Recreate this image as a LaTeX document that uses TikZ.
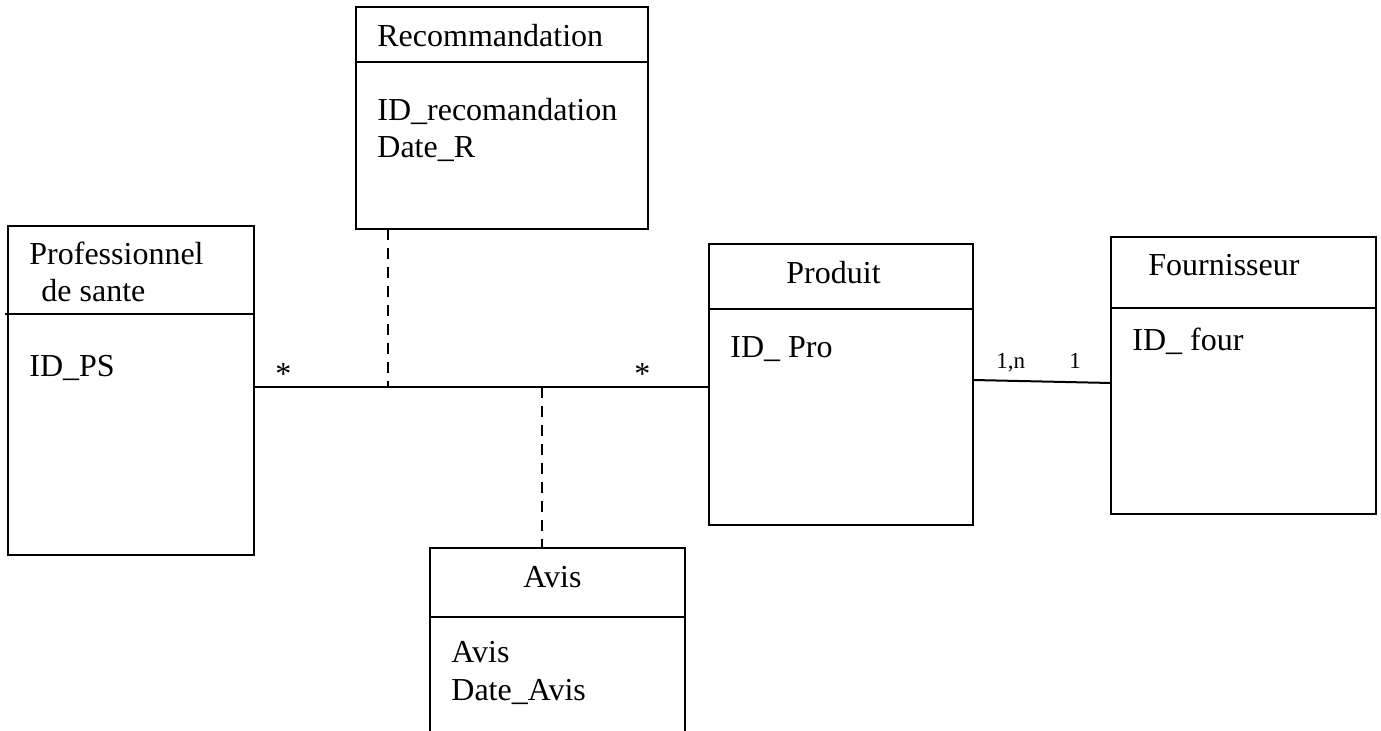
\documentclass[tikz,border=0pt]{standalone}
\usepackage{fontspec}
\setmainfont{Liberation Serif}
\usetikzlibrary{calc}
\tikzset{
  box/.style={draw, line width=1.2pt, inner sep=0pt, outer sep=0pt},
  txt/.style={anchor=base west, inner sep=0pt, font=\fontsize{16pt}{19pt}\selectfont},
  small/.style={anchor=base west, inner sep=0pt, font=\fontsize{11.5pt}{13pt}\selectfont},
  conn/.style={line width=1.2pt},
  thinconn/.style={line width=1pt},
  dconn/.style={line width=1.3pt, dash pattern=on 5.5pt off 4pt},
}
\begin{document}
\begin{tikzpicture}[x=0.5pt,y=-0.5pt]
\useasboundingbox (0,0) rectangle (1381,731);
% boxes
\node[box, minimum width=146pt, minimum height=111pt] (rec) at (502,118) {};
\node[box, minimum width=123pt, minimum height=164.5pt] (prof) at (131,390.5) {};
\node[box, minimum width=132pt, minimum height=140.5pt] (prod) at (841,384.5) {};
\node[box, minimum width=132.5pt, minimum height=138.5pt] (four) at (1243.5,375.5) {};
\node[box, minimum width=127.5pt, minimum height=96pt] (avis) at (557.5,644) {};
% header lines
\draw[conn] (rec.west |- 0,62) -- (rec.east |- 0,62);
\draw[conn] (5,314) -- (prof.east |- 0,314);
\draw[conn] (prod.west |- 0,309) -- (prod.east |- 0,309);
\draw[conn] (four.west |- 0,308) -- (four.east |- 0,308);
\draw[conn] (avis.west |- 0,617) -- (avis.east |- 0,617);
% texts
\node[txt] (t1) at (377,47) {Recommandation};
\node[txt] (t2) at (377,121) {ID\_recomandation};
\node[txt] (t3) at (377,158) {Date\_R};
\node[txt] (t4) at (29,265) {Professionnel};
\node[txt] (t5) at (33,302) {\ de sante};
\node[txt] (t6) at (29,377) {ID\_PS};
\node[txt] (t7) at (786,284) {Produit};
\node[txt] (t8) at (730,358) {ID\_ Pro};
\node[txt] (t9) at (1148,276) {Fournisseur};
\node[txt] (t10) at (1132,351) {ID\_ four};
\node[txt] (t11) at (523,588) {Avis};
\node[txt] (t12) at (451,662) {Avis};
\node[txt] (t13) at (451,700) {Date\_Avis};
% connectors
\coordinate (j1) at (388,387);
\coordinate (j2) at (542,387);
\draw[conn, line width=1.4pt] (prof.east |- j1) -- (prod.west |- j1);
\draw[dconn] (j1 |- rec.south) -- (j1);
\draw[dconn] (j2) -- (j2 |- avis.north);
\draw[thinconn] ([yshift=2.25pt]prod.east) -- ([yshift=-3.75pt]four.west);
% multiplicities
\node[txt] (s1) at (275,385) {*};
\node[txt] (s2) at (634,385) {*};
\node[small] (m1) at (996,369) {1,n};
\node[small] (m2) at (1069,369) {1};
\end{tikzpicture}
\end{document}
